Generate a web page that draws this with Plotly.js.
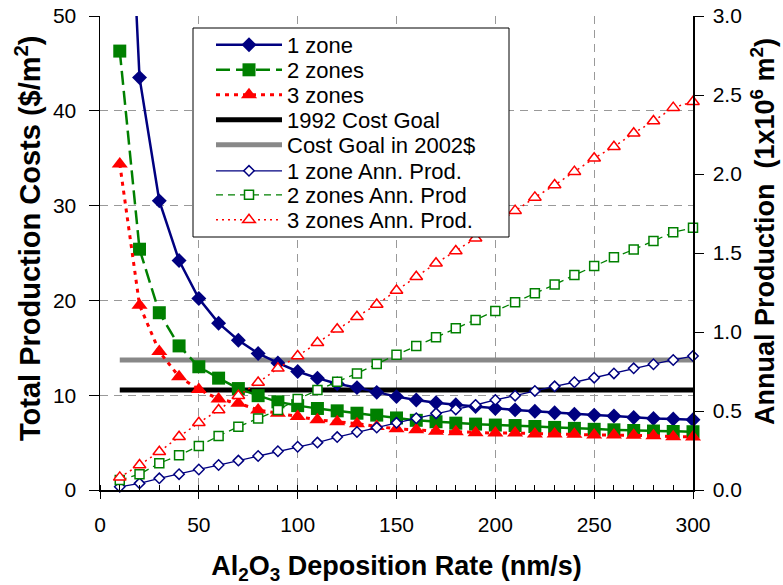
<!DOCTYPE html>
<html>
<head>
<meta charset="utf-8">
<script src="https://cdn.plot.ly/plotly-3.0.1.min.js"></script>
<style>
  html, body { margin: 0; padding: 0; background: #fff; }
  #chart { width: 783px; height: 585px; }
</style>
</head>
<body>
<div id="chart"></div>
<script>
// ---- data ----
const rate = [10,20,30,40,50,60,70,80,90,100,110,120,130,140,150,160,170,180,190,200,210,220,230,240,250,260,270,280,290,300];

const cost1Zone = [87, 43.5, 30.5, 24.2, 20.2, 17.6, 15.8, 14.4, 13.4, 12.5, 11.8, 11.2, 10.8, 10.3, 9.85, 9.5, 9.2, 9.0, 8.8, 8.6, 8.45, 8.3, 8.15, 8.0, 7.9, 7.8, 7.65, 7.55, 7.5, 7.4];
const cost2Zones = [46.3, 25.4, 18.7, 15.2, 13.0, 11.8, 10.7, 9.95, 9.3, 8.9, 8.6, 8.35, 8.1, 7.9, 7.6, 7.35, 7.2, 7.05, 6.95, 6.85, 6.8, 6.7, 6.6, 6.5, 6.4, 6.35, 6.28, 6.22, 6.17, 6.15];
const cost3Zones = [34.4, 19.5, 14.6, 11.95, 10.6, 9.6, 9.15, 8.45, 8.1, 7.75, 7.4, 7.2, 7.0, 6.7, 6.45, 6.35, 6.2, 6.15, 6.05, 6.0, 6.0, 5.92, 5.9, 5.88, 5.8, 5.8, 5.78, 5.72, 5.62, 5.6];

const goalRate = [10, 300];
const goal1992 = [10.55, 10.55];
const goal2002 = [13.7, 13.7];

const prod1Zone = [0.02, 0.042, 0.074, 0.10, 0.13, 0.158, 0.186, 0.215, 0.245, 0.274, 0.30, 0.335, 0.367, 0.395, 0.425, 0.454, 0.485, 0.51, 0.538, 0.57, 0.597, 0.627, 0.656, 0.682, 0.711, 0.738, 0.77, 0.796, 0.823, 0.848];
const prod2Zones = [0.063, 0.10, 0.169, 0.22, 0.278, 0.342, 0.40, 0.453, 0.506, 0.576, 0.633, 0.685, 0.738, 0.798, 0.856, 0.911, 0.966, 1.023, 1.076, 1.133, 1.188, 1.245, 1.30, 1.36, 1.418, 1.473, 1.522, 1.576, 1.631, 1.66];
const prod3Zones = [0.08, 0.158, 0.242, 0.337, 0.426, 0.506, 0.597, 0.68, 0.77, 0.848, 0.932, 1.017, 1.097, 1.174, 1.263, 1.35, 1.435, 1.513, 1.593, 1.68, 1.768, 1.852, 1.93, 2.015, 2.10, 2.173, 2.258, 2.335, 2.42, 2.457];

const names = ["1 zone", "2 zones", "3 zones", "1992 Cost Goal", "Cost Goal in 2002$",
               "1 zone Ann. Prod.", "2 zones Ann. Prod", "3 zones Ann. Prod."];

const xTitle = 'Al<sub>2</sub>O<sub>3</sub> Deposition Rate (nm/s)';
const yTitle = 'Total Production Costs ($/m<sup>2</sup>)';
const y2Title = 'Annual Production  (1x10<sup>6</sup> m<sup>2</sup>)';

// ---- styles / geometry ----
const NAVY = '#000080', GREEN = '#008000', RED = '#FF0000';
const FONT = 'Liberation Sans, Arial, Helvetica, sans-serif';
const W = 783, H = 585;
const M = { l: 100, r: 90, t: 16, b: 95 };
const PW = W - M.l - M.r, PH = H - M.t - M.b;
const px2x = p => (p - M.l) / PW;          // pixel -> paper x
const px2y = p => (H - M.b - p) / PH;      // pixel -> paper y

// legend entry centres (px) and box
const legendRowsPx = [45, 70, 95, 120, 145, 171, 195, 220];
const legendLeftPx = 211;
const legendBox = { x0: 193, x1: 509, y0: 28, y1: 237 };

const traces = [
  { x: goalRate, y: goal1992, name: names[3], legend: 'legend4', mode: 'lines',
    line: { color: '#000000', width: 5 }, yaxis: 'y' },
  { x: goalRate, y: goal2002, name: names[4], legend: 'legend5', mode: 'lines',
    line: { color: '#888888', width: 5 }, yaxis: 'y' },
  { x: rate, y: cost1Zone, name: names[0], legend: 'legend', mode: 'lines+markers', cliponaxis: false,
    line: { color: NAVY, width: 2.5 },
    marker: { symbol: 'diamond', size: 11.5, color: NAVY }, yaxis: 'y' },
  { x: rate, y: cost2Zones, name: names[1], legend: 'legend2', mode: 'lines+markers', cliponaxis: false,
    line: { color: GREEN, width: 2.5, dash: '14px,6px' },
    marker: { symbol: 'square', size: 13, color: GREEN }, yaxis: 'y' },
  { x: rate, y: cost3Zones, name: names[2], legend: 'legend3', mode: 'lines+markers', cliponaxis: false,
    line: { color: RED, width: 3, dash: '4px,5px' },
    marker: { symbol: 'triangle-up', size: 14, color: RED }, yaxis: 'y' },
  { x: rate, y: prod1Zone, name: names[5], legend: 'legend6', mode: 'lines+markers', cliponaxis: false,
    line: { color: NAVY, width: 1.3 },
    marker: { symbol: 'diamond', size: 8, color: '#ffffff', line: { color: NAVY, width: 1.5 } }, yaxis: 'y2' },
  { x: rate, y: prod2Zones, name: names[6], legend: 'legend7', mode: 'lines+markers', cliponaxis: false,
    line: { color: GREEN, width: 1.3, dash: '7px,5px' },
    marker: { symbol: 'square', size: 9, color: '#ffffff', line: { color: GREEN, width: 1.5 } }, yaxis: 'y2' },
  { x: rate, y: prod3Zones, name: names[7], legend: 'legend8', mode: 'lines+markers', cliponaxis: false,
    line: { color: RED, width: 1.5, dash: '2px,4px' },
    marker: { symbol: 'triangle-up', size: 11, color: '#ffffff', line: { color: RED, width: 1.5 } }, yaxis: 'y2' }
];

const layout = {
  width: W, height: H,
  margin: M,
  paper_bgcolor: '#ffffff', plot_bgcolor: '#ffffff',
  font: { family: FONT, size: 21, color: '#000000' },
  showlegend: true,
  xaxis: {
    range: [0, 300], dtick: 50, tick0: 0,
    showline: true, linecolor: '#000000', linewidth: 1.5,
    ticks: 'outside', ticklen: 7, tickcolor: '#000000', tickwidth: 1,
    minor: { dtick: 10, ticks: 'inside', ticklen: 5, tickcolor: '#000000', showgrid: false },
    showgrid: true, gridcolor: '#999999', gridwidth: 1, griddash: '8px,6px',
    zeroline: false, ticklabelstandoff: 8,
    tickfont: { family: FONT, size: 21, color: '#000000' },
    title: { text: xTitle, font: { family: FONT, size: 27, color: '#000000', weight: 'bold' }, standoff: 25 }
  },
  yaxis: {
    range: [0, 50], dtick: 10, tick0: 0,
    showline: true, linecolor: '#000000', linewidth: 1.5,
    ticks: 'outside', ticklen: 10, tickcolor: '#000000',
    showgrid: true, gridcolor: '#999999', gridwidth: 1, griddash: '8px,6px',
    zeroline: false, ticklabelstandoff: 8,
    tickfont: { family: FONT, size: 21, color: '#000000' }
  },
  yaxis2: {
    overlaying: 'y', side: 'right',
    range: [0, 3], dtick: 0.5, tick0: 0, tickformat: '.1f',
    showline: true, linecolor: '#000000', linewidth: 1.5,
    ticks: 'outside', ticklen: 9, tickcolor: '#000000',
    showgrid: false, zeroline: false, ticklabelstandoff: 5,
    tickfont: { family: FONT, size: 21, color: '#000000' }
  },
  shapes: [{
    type: 'rect', xref: 'paper', yref: 'paper', layer: 'above',
    x0: px2x(legendBox.x0), x1: px2x(legendBox.x1),
    y0: px2y(legendBox.y1), y1: px2y(legendBox.y0),
    fillcolor: '#ffffff', line: { color: '#000000', width: 1 }
  }],
  annotations: [
    { text: yTitle, textangle: -90, xref: 'paper', yref: 'paper',
      x: px2x(28), y: px2y(238), xanchor: 'center', yanchor: 'middle', showarrow: false,
      font: { family: FONT, size: 29, color: '#000000', weight: 'bold' } },
    { text: y2Title, textangle: -90, xref: 'paper', yref: 'paper',
      x: px2x(763), y: px2y(232), xanchor: 'center', yanchor: 'middle', showarrow: false,
      font: { family: FONT, size: 27, color: '#000000', weight: 'bold' } }
  ]
};

// one legend per entry so rows can sit exactly where the reference puts them
legendRowsPx.forEach((py, i) => {
  const key = i === 0 ? 'legend' : 'legend' + (i + 1);
  layout[key] = {
    x: px2x(legendLeftPx), y: px2y(py), xanchor: 'left', yanchor: 'middle',
    bgcolor: 'rgba(0,0,0,0)', borderwidth: 0,
    font: { family: FONT, size: 22, color: '#000000' },
    itemwidth: 66, tracegroupgap: 0
  };
});

Plotly.newPlot('chart', traces, layout, { displayModeBar: false, staticPlot: true });
</script>
</body>
</html>
